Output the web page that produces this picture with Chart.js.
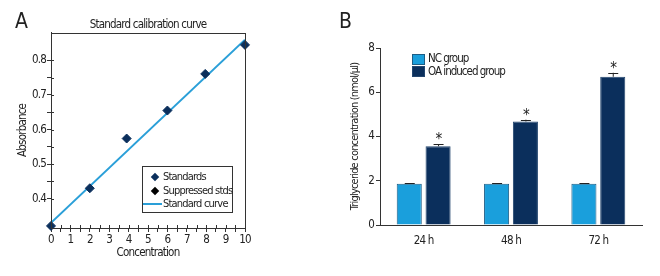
<!DOCTYPE html>
<html>
<head>
<meta charset="utf-8">
<script src="https://cdn.jsdelivr.net/npm/chart.js@4.4.1/dist/chart.umd.min.js"></script>
<style>
	body { margin: 0; background: #fff; width: 660px; height: 276px; overflow: hidden; position: relative; font-family: 'DejaVu Sans Condensed', 'Liberation Sans Narrow', sans-serif; color: #222; }
	canvas { position: absolute; top: 0; }
	#chartA { left: 0; }
	#chartB { left: 330px; }
	.panel { position: absolute; font-size: 21px; top: 9px; letter-spacing: 0; }
	.legend { position: absolute; font-size: 11px; line-height: 13.7px; letter-spacing: -0.8px; }
	.legend .row { display: flex; align-items: center; white-space: nowrap; }
	.legend .row span { flex-shrink: 0; }
	#legendA { left: 142px; top: 166px; width: 91px; height: 47px; border: 1px solid #333; padding-top: 3px; box-sizing: border-box; }
	#legendB { left: 412px; top: 53px; font-size: 11.5px; letter-spacing: -1px; }
	#legendB .row { height: 12.5px; }
</style>
</head>
<body>
<canvas id="chartA" width="330" height="276"></canvas>
<canvas id="chartB" width="330" height="276"></canvas>
<div class="panel" style="left:15px">A</div>
<div class="panel" style="left:339px">B</div>
<div class="legend" id="legendA"></div>
<div class="legend" id="legendB"></div>
<script>
// Panel A: standard calibration curve
const stdConcentration = [0, 2, 3.9, 6, 7.95, 10];
const stdAbsorbance = [0.321, 0.43, 0.574, 0.655, 0.761, 0.845];
const curveConcentration = [0, 10];
const curveAbsorbance = [0.33, 0.86];

// Panel B: triglyceride concentration
const timepoints = ['24 h', '48 h', '72 h'];
const ncValues = [1.86, 1.86, 1.86];
const ncErrors = [0.02, 0.02, 0.02];
const oaValues = [3.56, 4.68, 6.70];
const oaErrors = [0.08, 0.08, 0.18];
const oaSignificant = [true, true, true];

const fontFamily = "'DejaVu Sans Condensed', 'Liberation Sans Narrow', sans-serif";
Chart.defaults.font.family = fontFamily;
Chart.defaults.font.size = 11.5;
Chart.defaults.color = '#222';

const navy = '#0b2f5c';
const lightBlue = '#1a9fdc';

// Tighter canvas text, the original uses a condensed face
const narrowText = {
	id: 'narrowText',
	beforeDraw (chart)
	{
		chart.ctx.letterSpacing = '-0.8px';
	}
};

// Full frame round the plot area, plus the inner half of each tick (panel A only)
const frameBox = {
	id: 'frameBox',
	afterDraw (chart)
	{
		const a = chart.chartArea;
		const ctx = chart.ctx;
		ctx.save();
		ctx.strokeStyle = '#333';
		ctx.lineWidth = 1;
		ctx.strokeRect(Math.round(a.left) + 0.5, Math.round(a.top) + 0.5, Math.round(a.right - a.left), Math.round(a.bottom - a.top));
		ctx.beginPath();
		chart.scales.x.ticks.forEach(t => {
			const px = Math.round(chart.scales.x.getPixelForValue(t.value)) + 0.5;
			ctx.moveTo(px, a.bottom);
			ctx.lineTo(px, a.bottom - 3);
		});
		chart.scales.y.ticks.forEach(t => {
			const py = Math.round(chart.scales.y.getPixelForValue(t.value)) + 0.5;
			ctx.moveTo(a.left, py);
			ctx.lineTo(a.left + 3, py);
		});
		ctx.stroke();
		ctx.restore();
	}
};

// Error bars and significance marks on top of bars (panel B)
const errorBars = {
	id: 'errorBars',
	afterDatasetsDraw (chart)
	{
		const ctx = chart.ctx;
		const yScale = chart.scales.y;
		chart.data.datasets.forEach((dataset, d) => {
			if (!dataset.errors) {return;}
			const meta = chart.getDatasetMeta(d);
			meta.data.forEach((bar, i) => {
				const top = yScale.getPixelForValue(dataset.data[i] + dataset.errors[i]);
				ctx.save();
				ctx.strokeStyle = '#222';
				ctx.lineWidth = 1;
				ctx.beginPath();
				ctx.moveTo(bar.x + 0.5, bar.y);
				ctx.lineTo(bar.x + 0.5, top);
				ctx.moveTo(bar.x - 4.5, Math.round(top) + 0.5);
				ctx.lineTo(bar.x + 5.5, Math.round(top) + 0.5);
				ctx.stroke();
				if (dataset.significant && dataset.significant[i]) {
					ctx.fillStyle = '#222';
					ctx.font = '15px ' + fontFamily;
					ctx.textAlign = 'center';
					ctx.textBaseline = 'middle';
					ctx.fillText('*', bar.x + 0.5, top - 4);
				}
				ctx.restore();
			});
		});
	}
};

// Build an HTML legend from the chart datasets
function renderLegend (chart, divId)
{
	const div = document.getElementById(divId);
	div.innerHTML = '';
	chart.data.datasets.forEach(dataset => {
		const row = document.createElement('div');
		row.className = 'row';
		const mark = document.createElement('span');
		if (dataset.legendMark === 'line') {
			mark.style.cssText = 'display:inline-block;width:19px;height:2px;background:' + dataset.borderColor + ';margin:0 1px 0 0;';
		} else if (dataset.legendMark === 'diamond') {
			mark.style.cssText = 'display:inline-block;width:6px;height:6px;transform:rotate(45deg);background:' + dataset.backgroundColor + ';margin:0 5px 0 9px;';
		} else {
			mark.style.cssText = 'display:inline-block;width:11px;height:9px;border:1px solid ' + dataset.borderColor + ';background:' + dataset.backgroundColor + ';margin-right:3px;';
		}
		row.appendChild(mark);
		row.appendChild(document.createTextNode(dataset.label));
		div.appendChild(row);
	});
}

// Show a label only for ticks on whole multiples of the given step
function labelEvery (step, digits)
{
	return function (value) {
		const r = value / step;
		return Math.abs(r - Math.round(r)) < 1e-6 ? value.toFixed(digits) : '';
	};
}

const chartA = new Chart(document.getElementById('chartA').getContext('2d'), {
	type: 'scatter',
	data: {
		datasets: [
			{
				label: 'Standards',
				data: stdConcentration.map((x, i) => ({x: x, y: stdAbsorbance[i]})),
				backgroundColor: navy,
				borderColor: navy,
				pointStyle: 'rectRot',
				pointRadius: 4.5,
				clip: false,
				order: 1,
				legendMark: 'diamond'
			},
			{
				label: 'Suppressed stds',
				data: [],
				backgroundColor: '#000',
				borderColor: '#000',
				pointStyle: 'rectRot',
				order: 2,
				legendMark: 'diamond'
			},
			{
				type: 'line',
				label: 'Standard curve',
				data: curveConcentration.map((x, i) => ({x: x, y: curveAbsorbance[i]})),
				borderColor: '#2a9fd8',
				borderWidth: 2,
				pointRadius: 0,
				order: 3,
				legendMark: 'line'
			}
		]
	},
	options: {
		responsive: false,
		animation: false,
		layout: {padding: {left: 0, right: 85, top: 0, bottom: 0}},
		plugins: {
			legend: {display: false},
			tooltip: {enabled: false},
			title: {
				display: true,
				text: 'Standard calibration curve',
				fullSize: false,
				font: {size: 11.5, weight: 'normal'},
				padding: {top: 18, bottom: 1}
			}
		},
		scales: {
			x: {
				type: 'linear',
				min: 0,
				max: 10,
				afterFit: scale => { scale.height = 48; },
				ticks: {stepSize: 0.5, autoSkip: false, maxRotation: 0, padding: 1, callback: labelEvery(1, 0)},
				grid: {drawOnChartArea: false, tickLength: 4, color: '#333'},
				border: {color: '#333'},
				title: {display: true, text: 'Concentration', font: {size: 11.5}, padding: {top: 0, bottom: 16}}
			},
			y: {
				min: 0.315,
				max: 0.88,
				afterFit: scale => { scale.width = 51; },
				afterBuildTicks: scale => {
					scale.ticks = scale.ticks.filter(t => Math.abs(t.value / 0.05 - Math.round(t.value / 0.05)) < 1e-6);
				},
				ticks: {stepSize: 0.05, autoSkip: false, padding: 1, callback: labelEvery(0.1, 1)},
				grid: {drawOnChartArea: false, tickLength: 4, color: '#333'},
				border: {color: '#333'},
				title: {display: true, text: 'Absorbance', font: {size: 11.5}, padding: {top: 16, bottom: 0}}
			}
		}
	},
	plugins: [narrowText, frameBox]
});
renderLegend(chartA, 'legendA');

const chartB = new Chart(document.getElementById('chartB').getContext('2d'), {
	type: 'bar',
	data: {
		labels: timepoints,
		datasets: [
			{
				label: 'NC group',
				data: ncValues,
				errors: ncErrors,
				backgroundColor: lightBlue,
				borderColor: '#1d5d85',
				borderWidth: 1
			},
			{
				label: 'OA induced group',
				data: oaValues,
				errors: oaErrors,
				significant: oaSignificant,
				backgroundColor: navy,
				borderColor: '#23466f',
				borderWidth: 1
			}
		]
	},
	options: {
		responsive: false,
		animation: false,
		categoryPercentage: 0.66,
		barPercentage: 0.87,
		layout: {padding: {left: 0, right: 18, top: 48, bottom: 0}},
		plugins: {
			legend: {display: false},
			tooltip: {enabled: false}
		},
		scales: {
			x: {
				afterFit: scale => { scale.height = 51; },
				ticks: {padding: 1},
				grid: {display: false},
				border: {color: '#333'}
			},
			y: {
				min: 0,
				max: 8,
				afterFit: scale => { scale.width = 50; },
				ticks: {stepSize: 2, padding: 2},
				grid: {drawOnChartArea: false, tickLength: 4, color: '#333'},
				border: {color: '#333'},
				title: {display: true, text: 'Triglyceride concentration (nmol/µl)', font: {size: 11}, padding: {top: 19, bottom: 0}}
			}
		}
	},
	plugins: [narrowText, errorBars]
});
renderLegend(chartB, 'legendB');
</script>
</body>
</html>
